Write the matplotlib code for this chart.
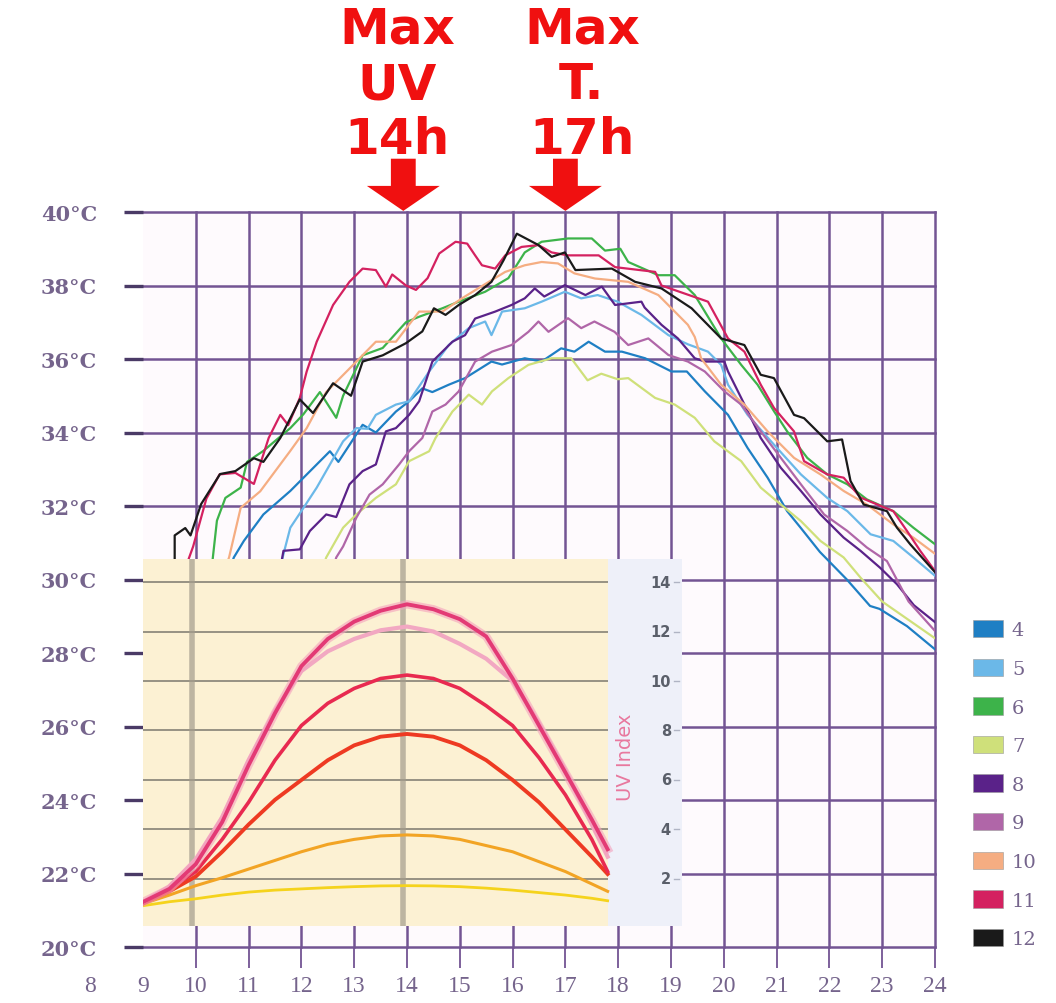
import matplotlib
matplotlib.use('Agg')
import matplotlib.pyplot as plt
from matplotlib.patches import Patch
from matplotlib.transforms import ScaledTranslation

# ---- data: hourly temperature profile per month ----
months = ['4', '5', '6', '7', '8', '9', '10', '11', '12']
colors = ['#1f7fc4', '#6bb8e8', '#3db34a', '#cfe07a', '#5a2289',
          '#b066a8', '#f5ad82', '#d42160', '#1a1a1a']

h4 = [10.65, 10.72, 10.91, 11.28, 11.79, 12.29, 12.54, 12.7, 13.16, 13.41, 13.79, 14.04, 14.29, 14.48,
      14.79, 15.1, 15.6, 15.8, 16.23, 16.55, 16.92, 17.17, 17.44, 17.75, 18.07, 18.51, 19.01, 19.3,
      19.64, 20.08, 20.45, 20.83, 21.2, 21.46, 21.82, 22.33, 22.77, 22.95, 23.47, 24.0]
t4 = [30.3, 30.6, 31.05, 31.77, 32.41, 33.13, 33.49, 33.2, 34.21, 34.0, 34.57, 34.85, 35.2, 35.1,
      35.3, 35.48, 35.93, 35.85, 36.02, 35.93, 36.29, 36.2, 36.47, 36.2, 36.2, 36.02, 35.66, 35.66,
      35.12, 34.48, 33.58, 32.77, 31.86, 31.4, 30.75, 30.0, 29.28, 29.2, 28.73, 28.1]

h5 = [11.6, 11.66, 11.79, 12.04, 12.29, 12.54, 12.79, 13.04, 13.25, 13.41, 13.79, 14.04, 14.42, 14.79,
      15.17, 15.48, 15.6, 15.8, 16.23, 16.55, 16.99, 17.3, 17.61, 17.99, 18.44, 18.95, 19.32, 19.7,
      19.95, 20.08, 20.45, 20.95, 21.46, 21.96, 22.34, 22.78, 23.21, 23.59, 24.0]
t5 = [30.3, 30.69, 31.41, 31.95, 32.5, 33.13, 33.76, 34.12, 34.1, 34.48, 34.76, 34.85, 35.66, 36.38,
      36.84, 37.02, 36.65, 37.29, 37.38, 37.56, 37.83, 37.65, 37.74, 37.56, 37.2, 36.65, 36.4, 36.2,
      35.84, 35.3, 34.48, 33.67, 32.86, 32.22, 31.86, 31.23, 31.05, 30.6, 30.1]

h6 = [10.3, 10.4, 10.56, 10.85, 10.97, 11.28, 11.79, 12.04, 12.35, 12.66, 12.79, 13.16, 13.54, 13.98,
      14.23, 14.67, 14.98, 15.48, 15.92, 16.23, 16.55, 17.05, 17.5, 17.75, 18.04, 18.19, 18.76, 19.07,
      19.45, 19.95, 20.33, 20.64, 20.95, 21.2, 21.58, 21.96, 22.34, 22.71, 23.21, 23.59, 24.0]
t6 = [30.3, 31.6, 32.22, 32.5, 33.2, 33.5, 34.12, 34.5, 35.1, 34.4, 35.0, 36.1, 36.3, 37.0,
      37.15, 37.38, 37.56, 37.83, 38.2, 38.9, 39.19, 39.28, 39.28, 38.95, 39.0, 38.64, 38.28, 38.28,
      37.74, 36.56, 35.84, 35.3, 34.58, 34.03, 33.31, 32.86, 32.59, 32.18, 31.86, 31.41, 30.96]

h7 = [12.4, 12.47, 12.79, 13.04, 13.41, 13.79, 14.04, 14.42, 14.54, 14.86, 15.17, 15.42, 15.61, 15.92,
      16.3, 16.74, 17.11, 17.42, 17.68, 17.99, 18.19, 18.7, 19.07, 19.45, 19.82, 20.33, 20.7, 21.08,
      21.46, 21.83, 22.27, 22.59, 23.0, 23.5, 24.0]
t7 = [30.3, 30.6, 31.41, 31.77, 32.22, 32.59, 33.22, 33.49, 33.85, 34.57, 35.03, 34.76, 35.12, 35.48,
      35.84, 36.02, 36.02, 35.42, 35.6, 35.45, 35.48, 34.94, 34.76, 34.4, 33.76, 33.22, 32.5, 32.04,
      31.59, 31.05, 30.6, 30.05, 29.4, 28.9, 28.4]

h8 = [11.6, 11.66, 11.97, 12.16, 12.47, 12.66, 12.91, 13.16, 13.41, 13.6, 13.79, 14.04, 14.23, 14.48,
      14.86, 15.1, 15.29, 15.67, 15.98, 16.23, 16.42, 16.6, 16.99, 17.38, 17.69, 17.94, 18.44, 18.5,
      18.82, 19.13, 19.45, 19.64, 20.01, 20.08, 20.33, 20.7, 21.08, 21.46, 21.83, 22.27, 22.59, 22.96,
      23.28, 23.6, 24.0]
t8 = [30.3, 30.78, 30.82, 31.32, 31.77, 31.7, 32.59, 32.95, 33.13, 34.03, 34.12, 34.48, 34.85, 35.93,
      36.47, 36.65, 37.1, 37.29, 37.47, 37.65, 37.92, 37.7, 38.01, 37.74, 37.97, 37.47, 37.56, 37.4,
      36.93, 36.56, 36.02, 35.93, 35.93, 35.66, 34.94, 33.85, 33.04, 32.41, 31.77, 31.14, 30.78, 30.32,
      29.87, 29.3, 28.84]

h9 = [12.6, 12.66, 12.79, 13.04, 13.29, 13.54, 13.85, 14.04, 14.29, 14.48, 14.73, 14.98, 15.29, 15.61,
      15.98, 16.3, 16.49, 16.68, 17.05, 17.3, 17.55, 17.93, 18.19, 18.57, 18.95, 19.32, 19.64, 20.01,
      20.33, 20.7, 21.08, 21.46, 21.9, 22.34, 22.71, 23.09, 23.5, 24.0]
t9 = [30.3, 30.6, 30.9, 31.68, 32.31, 32.59, 33.13, 33.49, 33.85, 34.57, 34.76, 35.12, 35.93, 36.2,
      36.38, 36.74, 37.02, 36.74, 37.11, 36.84, 37.02, 36.74, 36.38, 36.56, 36.11, 35.93, 35.66, 35.12,
      34.76, 34.03, 33.31, 32.59, 31.77, 31.32, 30.87, 30.5, 29.4, 28.6]

h10 = [10.55, 10.63, 10.85, 11.22, 11.79, 12.1, 12.47, 12.98, 13.41, 13.79, 14.23, 14.67, 15.04, 15.55,
       15.86, 16.23, 16.55, 16.86, 17.17, 17.56, 18.19, 18.76, 19.32, 19.45, 19.57, 19.95, 20.39, 20.83,
       21.33, 21.83, 22.27, 22.71, 23.21, 23.59, 24.0]
t10 = [30.3, 30.6, 31.95, 32.4, 33.5, 34.12, 35.1, 35.84, 36.47, 36.47, 37.29, 37.29, 37.65, 38.1,
       38.37, 38.55, 38.64, 38.6, 38.33, 38.19, 38.1, 37.74, 36.93, 36.6, 36.02, 35.3, 34.76, 34.03,
       33.31, 32.86, 32.41, 32.04, 31.5, 31.14, 30.7]

h11 = [9.8, 9.95, 10.2, 10.45, 10.75, 11.1, 11.38, 11.6, 11.75, 11.97, 12.1, 12.29, 12.6, 12.91,
       13.16, 13.41, 13.6, 13.72, 13.98, 14.17, 14.39, 14.61, 14.92, 15.14, 15.29, 15.42, 15.67, 15.86,
       16.17, 16.49, 16.74, 17.05, 17.31, 17.63, 17.94, 18.7, 18.82, 19.7, 20.08, 20.39, 20.7, 20.95,
       21.33, 21.52, 21.96, 22.27, 22.59, 23.21, 23.47, 23.72, 24.0]
t11 = [30.3, 30.9, 32.2, 32.86, 32.9, 32.6, 33.85, 34.48, 34.2, 34.94, 35.66, 36.47, 37.47, 38.1,
       38.46, 38.42, 37.97, 38.3, 38.0, 37.88, 38.2, 38.87, 39.19, 39.14, 38.82, 38.55, 38.46, 38.82,
       39.05, 39.1, 38.9, 38.82, 38.82, 38.82, 38.5, 38.37, 38.0, 37.56, 36.56, 36.2, 35.3, 34.67,
       34.03, 33.22, 32.86, 32.77, 32.23, 31.86, 31.32, 30.78, 30.23]

h12 = [9.6, 9.6, 9.8, 9.9, 10.1, 10.46, 10.75, 11.1, 11.28, 11.6, 11.97, 12.22, 12.6, 12.94,
       13.16, 13.54, 13.98, 14.29, 14.51, 14.73, 14.98, 15.29, 15.6, 15.83, 16.08, 16.49, 16.74, 16.99,
       17.19, 17.88, 18.32, 18.82, 19.39, 19.95, 20.39, 20.7, 20.95, 21.33, 21.52, 21.96, 22.24, 22.4,
       22.65, 23.09, 23.28, 23.53, 24.0]
t12 = [30.3, 31.2, 31.4, 31.2, 32.05, 32.87, 32.95, 33.3, 33.2, 33.85, 34.9, 34.53, 35.34, 35.0,
       35.93, 36.1, 36.43, 36.75, 37.38, 37.2, 37.47, 37.74, 38.1, 38.69, 39.41, 39.1, 38.78, 38.9,
       38.42, 38.46, 38.1, 37.92, 37.38, 36.56, 36.38, 35.57, 35.48, 34.48, 34.39, 33.76, 33.81, 32.68,
       32.04, 31.86, 31.41, 30.96, 30.2]

hours = [h4, h5, h6, h7, h8, h9, h10, h11, h12]
temps = [t4, t5, t6, t7, t8, t9, t10, t11, t12]

# ---- inset: UV index curves ----
uv_h = [9, 9.5, 10, 10.5, 11, 11.5, 12, 12.5, 13, 13.5, 14, 14.5, 15, 15.5, 16, 16.5, 17, 17.5, 17.8]
uv_a = [1.07, 1.6, 2.6, 4.3, 6.6, 8.7, 10.6, 11.7, 12.4, 12.84, 13.1, 12.9, 12.5, 11.8, 10.1, 8.2, 6.3, 4.4, 3.2]
uv_b = [1.07, 1.7, 2.8, 4.5, 6.8, 8.8, 10.4, 11.2, 11.7, 12.05, 12.2, 12.0, 11.5, 10.9, 10.0, 8.3, 6.4, 4.2, 2.9]
uv_c = [1.07, 1.6, 2.3, 3.6, 5.1, 6.8, 8.2, 9.1, 9.7, 10.1, 10.24, 10.1, 9.7, 9.0, 8.2, 6.9, 5.4, 3.6, 2.3]
uv_d = [1.0, 1.5, 2.1, 3.1, 4.2, 5.2, 6.0, 6.8, 7.4, 7.75, 7.86, 7.75, 7.4, 6.8, 6.0, 5.1, 4.0, 2.9, 2.2]
uv_e = [1.0, 1.35, 1.73, 2.05, 2.4, 2.75, 3.1, 3.4, 3.6, 3.74, 3.78, 3.74, 3.6, 3.35, 3.1, 2.7, 2.3, 1.8, 1.5]
uv_f = [0.92, 1.08, 1.2, 1.35, 1.47, 1.55, 1.6, 1.65, 1.69, 1.72, 1.73, 1.72, 1.69, 1.63, 1.55, 1.45, 1.35, 1.22, 1.12]
uv_ticks = [2, 4, 6, 8, 10, 12, 14]

W, H = 1056, 1004
fig = plt.figure(figsize=(W / 100, H / 100), dpi=100)
fig.patch.set_facecolor('white')

gridc = '#735493'
labc = '#75648c'

ax = fig.add_axes([143 / W, 1 - 948 / H, (935 - 143) / W, (948 - 213) / H])
ax.set_xlim(9, 24)
ax.set_ylim(20, 40)
ax.set_facecolor('#fefafd')
for s in ax.spines.values():
    s.set_visible(False)
for x in range(10, 25):
    ax.axvline(x, color=gridc, lw=1.8, zorder=1, clip_on=False)
for y in range(20, 41, 2):
    ax.axhline(y, color=gridc, lw=1.8, zorder=1, clip_on=False)

for h, t, c in zip(hours, temps, colors):
    ax.plot(h, t, color=c, lw=1.6, zorder=3)

ax.set_yticks(range(20, 41, 2))
ax.set_yticklabels(['%d°C' % v for v in range(20, 41, 2)])
ax.tick_params(axis='y', length=14, width=2.4, color='#4a3a66', pad=19,
               labelsize=15, labelcolor=labc)
for lbl in ax.get_yticklabels():
    lbl.set_fontfamily('DejaVu Serif')
    lbl.set_fontweight('bold')

ax.set_xticks(range(9, 25))
ax.tick_params(axis='x', length=15, width=1.3, color=gridc, pad=5,
               labelsize=17, labelcolor=labc)
for lbl in ax.get_xticklabels():
    lbl.set_fontfamily('Liberation Serif')
ax.xaxis.get_major_ticks()[0].tick1line.set_visible(False)
off = ScaledTranslation(0, -20 / 72, fig.dpi_scale_trans)
ax.text(8, 0, '8', transform=ax.get_xaxis_transform() + off, ha='center', va='top',
        fontsize=17, color=labc, family='Liberation Serif')

# annotations: max UV and max temperature
red = '#f01010'
for x, words in [(13.81, ['Max', 'UV', '14h']), (17.31, ['Max', 'T.', '17h'])]:
    for y, w in zip([44.6, 43.1, 41.6], words):
        ax.text(x, y, w, ha='center', va='baseline', fontsize=36, fontweight='bold',
                family='DejaVu Sans', color=red, clip_on=False)
for x in [13.93, 17.0]:
    ax.arrow(x, 41.45, 0, -1.42, width=0.47, head_width=1.38, head_length=0.68,
             length_includes_head=True, color=red, lw=0, clip_on=False, zorder=5)

# inset
xr = 9 + (682 - 143) / 52.8
axi = fig.add_axes([143 / W, 1 - 927 / H, (682 - 143) / W, (927 - 560) / H])
axi.set_xlim(9, xr)
axi.set_ylim(0.1, 14.93)
axi.axis('off')
axi.axvspan(9, 17.8, color='#fcf1d3', lw=0, zorder=0)
axi.axvspan(17.8, xr, color='#eef0f9', lw=0, zorder=0)
axi.hlines(uv_ticks, 9, 17.8, color='#8f8a7d', lw=1.3, zorder=1)
for x in [9.93, 13.93]:
    axi.axvline(x, color='#a39c8c', lw=4, alpha=0.7, zorder=1)

axi.plot(uv_h, uv_f, color='#f5d31c', lw=2.0, zorder=2)
axi.plot(uv_h, uv_e, color='#f2a424', lw=2.2, zorder=2)
axi.plot(uv_h, uv_d, color='#ee3a22', lw=2.8, zorder=3)
axi.plot(uv_h, uv_c, color='#e82a50', lw=2.6, zorder=3)
axi.plot(uv_h, uv_b, color='#f2a8c2', lw=3.0, zorder=3)
axi.plot(uv_h, uv_a, color='#f4a0bc', lw=6, alpha=0.6, zorder=3)
axi.plot(uv_h, uv_a, color='#e33a75', lw=2.8, zorder=4)

for v in uv_ticks:
    axi.text(19.0, v, str(v), ha='right', va='center', fontsize=10.5, fontweight='bold',
             color='#5a5f6a')
    axi.plot([19.05, 19.15], [v, v], color='#b0b4c4', lw=1)
axi.text(18.13, 6.97, 'UV Index', rotation=90, ha='center', va='center',
         color='#e8789e', fontsize=14)

# legend
handles = [Patch(facecolor=c, edgecolor='#9a9a9a', lw=0.4) for c in colors]
fig.legend(handles, months, loc='upper left', bbox_to_anchor=(973 / W, 1 - 621 / H),
           frameon=False, handlelength=1.55, handleheight=1.0, handletextpad=0.45,
           labelspacing=0.99, borderpad=0, borderaxespad=0, labelcolor=labc,
           prop={'family': 'DejaVu Serif', 'size': 14})

fig.savefig('out.png', dpi=100)
